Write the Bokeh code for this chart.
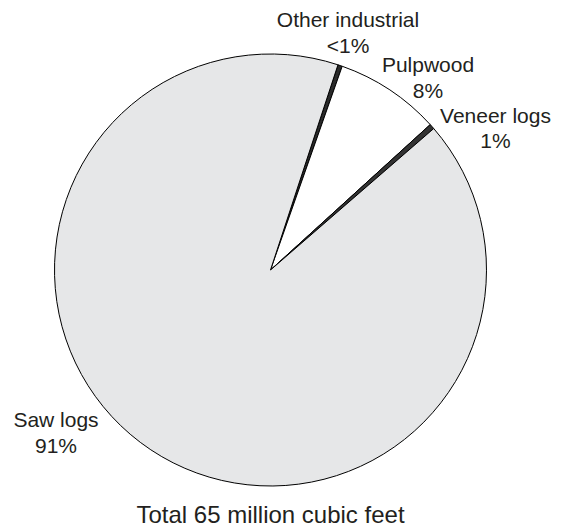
import math
from bokeh.plotting import figure
from bokeh.models import Range1d, ColumnDataSource
from bokeh.core.properties import value
from bokeh.embed import file_html
from bokeh.resources import INLINE

# ---- data (shares of 65 million cubic feet, clockwise from the first slice) ----
categories = ["Other industrial", "Pulpwood", "Veneer logs", "Saw logs"]
shares = [0.33, 7.86, 0.39, 91.42]
pct_labels = ["<1%", "8%", "1%", "91%"]
total_label = "Total 65 million cubic feet"

# ---- style / layout ----
W, H = 562, 529
slice_colors = ["#2a2a2a", "#ffffff", "#333333", "#e6e7e8"]
start_clock_deg = 18.2          # first slice starts this many degrees clockwise from 12 o'clock
cx, cy_top, radius = 270, 269.5, 216
# label anchor positions (figure pixels, y measured from top, incl. baseline offset)
text_dy = -8
label_x = [347.5, 427.5, 495, 55.5]
label_y_name = [26.7, 71.7, 123.2, 426.7]
label_y_pct = [53.3, 97.5, 148.3, 453.3]
title_pos = (270, 522.0)
font = "Liberation Sans"
text_color = "#231f20"

p = figure(width=W, height=H, output_backend="svg", toolbar_location=None,
           x_range=Range1d(0, W), y_range=Range1d(0, H),
           min_border=0, outline_line_color=None)
p.axis.visible = False
p.grid.visible = False
p.background_fill_color = "white"
p.border_fill_color = "white"

tot = sum(shares)
starts, ends = [], []
acc = start_clock_deg
for s in shares:
    a0 = acc
    a1 = acc + s / tot * 360.0
    starts.append(math.radians(90 - a0))
    ends.append(math.radians(90 - a1))
    acc = a1

src = ColumnDataSource(dict(cat=categories, start=starts, end=ends, color=slice_colors))
p.wedge(x=cx, y=H - cy_top, radius=radius, start_angle="start", end_angle="end",
        direction="clock", fill_color="color", line_color="#000000",
        line_width=1, source=src)

def fy(v):
    return H - (v + text_dy)

p.text(x=label_x, y=[fy(v) for v in label_y_name], text=categories,
       text_font=value(font), text_font_size="21px", text_color=text_color,
       text_align="center", text_baseline="alphabetic")
p.text(x=label_x, y=[fy(v) for v in label_y_pct], text=pct_labels,
       text_font=value(font), text_font_size="21px", text_color=text_color,
       text_align="center", text_baseline="alphabetic")
p.text(x=[title_pos[0]], y=[fy(title_pos[1])], text=[total_label],
       text_font=value(font), text_font_size="24px", text_color=text_color,
       text_align="center", text_baseline="alphabetic")

open("out.html", "w").write(file_html(p, INLINE))
